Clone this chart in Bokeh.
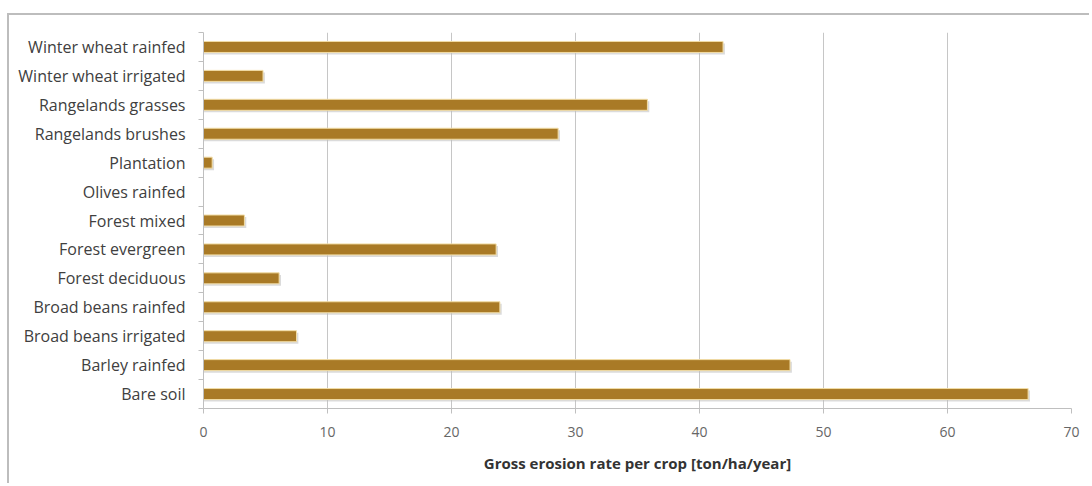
from bokeh.plotting import figure
from bokeh.models import FixedTicker, ColumnDataSource, Range1d
from bokeh.embed import file_html
from bokeh.resources import INLINE

categories = ["Winter wheat rainfed", "Winter wheat irrigated", "Rangelands grasses",
              "Rangelands brushes", "Plantation", "Olives rainfed", "Forest mixed",
              "Forest evergreen", "Forest deciduous", "Broad beans rainfed",
              "Broad beans irrigated", "Barley rainfed", "Bare soil"]
erosion = [41.9, 4.8, 35.8, 28.6, 0.7, 0.0, 3.3, 23.6, 6.1, 23.9, 7.5, 47.3, 66.5]
x_ticks = [0, 10, 20, 30, 40, 50, 60, 70]
axis_title = "Gross erosion rate per crop [ton/ha/year]"

n = len(categories)
ypos = [n - 0.5 - i for i in range(n)]
src = ColumnDataSource(dict(y=ypos, v=erosion, ys=[y - 0.07 for y in ypos],
                            vs=[v + 0.15 if v > 0 else 0 for v in erosion]))

FONT = "Open Sans"
p = figure(width=1082, height=470, output_backend="svg", toolbar_location=None,
           x_range=Range1d(0, 70), y_range=Range1d(0, n),
           min_border_left=194, min_border_right=20, min_border_top=17, min_border_bottom=77)
p.styles = {"border-top": "2px solid #BDBDBD", "border-left": "2px solid #BDBDBD",
            "margin-top": "13px", "margin-left": "7px"}
p.outline_line_color = None
p.background_fill_color = "white"
p.border_fill_color = "white"

# shadow
p.hbar(y="ys", right="vs", left=0, height=0.38, source=src, fill_color="#BDBDBD",
       fill_alpha=0.55, line_color=None)
p.hbar(y="y", right="v", left=0, height=0.38, source=src, fill_color="#A97A26",
       line_color="#F2DDA6", line_width=1)

p.xaxis.ticker = FixedTicker(ticks=x_ticks)
p.xgrid.ticker = FixedTicker(ticks=x_ticks)
p.xgrid.grid_line_color = "#C6C6C6"
p.ygrid.grid_line_color = None
p.xaxis.axis_line_color = "#BFBFBF"
p.xaxis.major_tick_line_color = "#BFBFBF"
p.xaxis.major_tick_out = 5
p.xaxis.major_tick_in = 0
p.xaxis.minor_tick_line_color = None
p.xaxis.major_label_text_font = FONT
p.xaxis.major_label_text_font_size = "14px"
p.xaxis.major_label_text_color = "#666666"
p.xaxis.major_label_standoff = 13
p.xaxis.axis_label = axis_title
p.xaxis.axis_label_text_font = FONT
p.xaxis.axis_label_text_font_size = "15px"
p.xaxis.axis_label_text_font_style = "bold"
p.xaxis.axis_label_text_color = "#333333"
p.xaxis.axis_label_standoff = 13

p.yaxis.ticker = FixedTicker(ticks=ypos, minor_ticks=list(range(n + 1)))
p.yaxis.major_label_overrides = {y: c for y, c in zip(ypos, categories)}
p.yaxis.axis_line_color = "#BFBFBF"
p.yaxis.major_tick_line_color = None
p.yaxis.major_tick_out = 0
p.yaxis.major_tick_in = 0
p.yaxis.minor_tick_line_color = "#BFBFBF"
p.yaxis.minor_tick_out = 5
p.yaxis.minor_tick_in = 0
p.yaxis.major_label_text_font = FONT
p.yaxis.major_label_text_font_size = "16px"
p.yaxis.major_label_text_color = "#404040"
p.yaxis.major_label_standoff = 13

open("out.html", "w").write(file_html(p, INLINE))
